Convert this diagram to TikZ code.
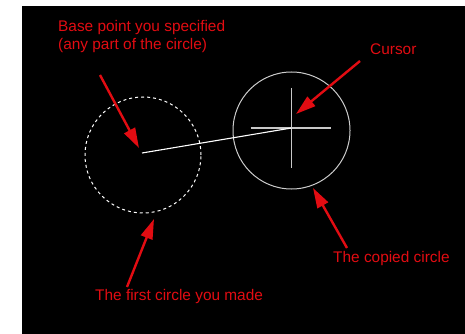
\documentclass[tikz,border=0pt]{standalone}
\usepackage{fontspec}
\setmainfont{Liberation Sans}
\usepackage{xcolor}
\usetikzlibrary{arrows.meta}
\usetikzlibrary{positioning}

\definecolor{labelred}{RGB}{226,12,18}
\definecolor{cadgray}{RGB}{200,200,200}

\tikzset{
  labeltext/.style={text=labelred, font=\fontsize{15.4}{18.2}\selectfont, inner sep=0pt, anchor=base west},
  pointer/.style={labelred, line width=2.4pt, -{Triangle[length=20pt,width=12pt]}},
  dashedcircle/.style={circle, draw=white, line width=1pt, dash pattern=on 3pt off 3pt, minimum size=116pt, inner sep=0pt},
  solidcircle/.style={circle, draw=cadgray!90!white, line width=1pt, minimum size=117pt, inner sep=0pt}
}

\begin{document}
\begin{tikzpicture}[x=1pt, y=-1pt]
  % ===== Canvas =====
  \fill[white] (0,0) rectangle (465,334);
  \fill[black] (22,6) rectangle (465,334);
  \useasboundingbox (0,0) rectangle (465,334);

  % Circles
  \node[dashedcircle] (first) at (143,155) {};
  \node[solidcircle] (copy) at (291.5,130.5) {};

  % Crosshair cursor
  \coordinate (cursor) at (291.5,128);
  \draw[cadgray, line width=1.1pt] (cursor) ++(0,-40) -- ++(0,80);
  \draw[cadgray, line width=1.1pt] (cursor) ++(-41,0) -- ++(80,0);

  % Rubber-band line from base point
  \coordinate (base) at (142,153);
  \draw[white, line width=1.1pt] (base) -- (cursor);

  % Labels
  \node[labeltext, align=left] (basetxt) at (58,50) {Base point you specified\\(any part of the circle)};
  \node[labeltext] (cursortxt) at (370,55) {Cursor};
  \node[labeltext] (copytxt) at (333,262) {The copied circle};
  \node[labeltext] (firsttxt) at (95,300) {The first circle you made};

  % Arrows
  \coordinate (basefrom) at (100,75);
  \coordinate (baseto) at (139,148);
  \coordinate (cursorfrom) at (360,61);
  \coordinate (cursorto) at (296,114);
  \coordinate (copyfrom) at (347,248);
  \coordinate (copyto) at (313,188);
  \coordinate (firstfrom) at (127,287);
  \coordinate (firstto) at (154,219);
  \draw[pointer] (basefrom) -- (baseto);
  \draw[pointer] (cursorfrom) -- (cursorto);
  \draw[pointer] (copyfrom) -- (copyto);
  \draw[pointer] (firstfrom) -- (firstto);
\end{tikzpicture}
\end{document}
